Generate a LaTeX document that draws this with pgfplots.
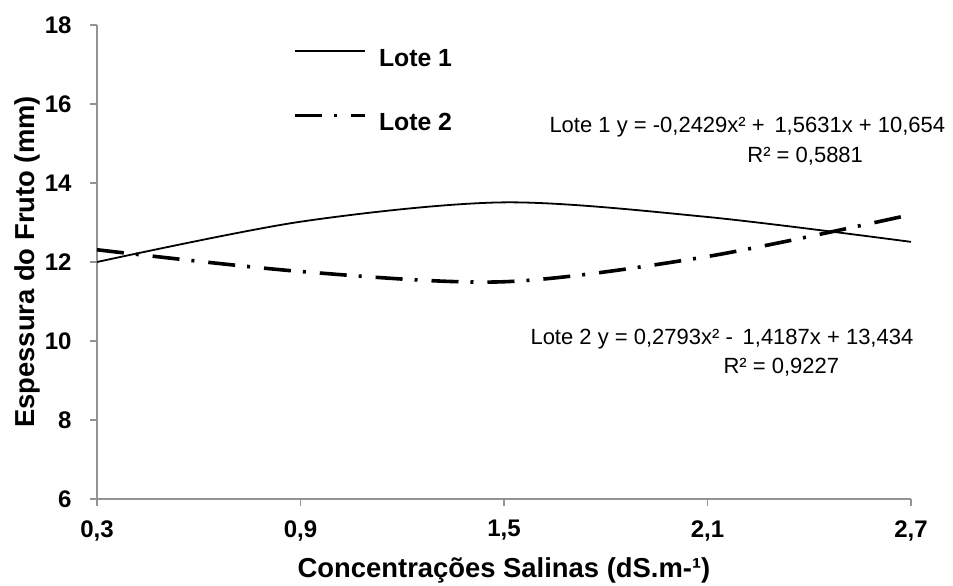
\documentclass[border=0pt]{standalone}
\usepackage{fontspec}
\setmainfont{Liberation Sans}
\usepackage{pgfplots}
\pgfplotsset{compat=1.18}

\begin{document}
\begin{tikzpicture}
\useasboundingbox (-48.5pt,-43pt) rectangle (428pt,249.5pt);
\begin{axis}[
  at={(0pt,0pt)},anchor=south west,
  scale only axis,width=407pt,height=237pt,
  xmin=0.3,xmax=2.7,ymin=6,ymax=18,
  clip=false,
  axis x line*=bottom,axis y line*=left,
  axis line style={-,draw=gray!85,line width=0.75pt},
  tick style={draw=gray!85,line width=0.75pt},
  tick align=outside,major tick length=3.5pt,
  xtick={0.3,0.9,1.5,2.1,2.7},
  xticklabels={{0,3},{0,9},{1,5},{2,1},{2,7}},
  ytick={6,8,...,18},
  ticklabel style={font=\bfseries\fontsize{12}{14}\selectfont},
  xticklabel style={anchor=north,inner sep=0pt,yshift=-7pt},
  yticklabel style={anchor=east,inner sep=0pt,xshift=-9pt},
  /pgf/number format/assume math mode=true,
  xlabel={Concentrações Salinas (dS.m-¹)},
  ylabel={Espessura do Fruto (mm)},
  label style={font=\bfseries\fontsize{13.7}{16}\selectfont},
  xlabel style={at={(axis description cs:0.5,-0.15)},anchor=center},
  ylabel style={at={(axis description cs:-0.086,0.5)},anchor=center},
  legend style={at={(axis description cs:0.2408,0.95)},anchor=north west,
    draw=none,fill=none,inner sep=0pt,row sep=22pt,
    font=\bfseries\fontsize{12.4}{14}\selectfont,
    nodes={inner sep=0pt}},
  legend cell align=left,
  legend image code/.code={\draw[#1] (0pt,4pt) -- (35pt,4pt);},
  /tikz/every odd column/.append style={column sep=6pt},
]
\addplot[black,line width=0.9pt,smooth] coordinates
  {(0.3,12.00) (0.9,13.02) (1.5,13.51) (2.1,13.14) (2.7,12.51)};
\addlegendentry{Lote 1}
\addplot[black,line width=1.8pt,smooth,
  dash pattern=on 13.5pt off 6pt on 1.5pt off 7pt] coordinates
  {(0.3,12.31) (0.9,11.76) (1.5,11.50) (2.1,12.14) (2.7,13.20)};
\addlegendentry{Lote 2}

\node[anchor=base west,inner sep=0pt,font=\fontsize{11}{13}\selectfont]
  at (axis cs:1.633,15.29) {Lote 1 y = -0,2429x² + \,1,5631x + 10,654};
\node[anchor=base west,inner sep=0pt,font=\fontsize{11}{13}\selectfont]
  at (axis cs:2.2165,14.53) {R² = 0,5881};
\node[anchor=base west,inner sep=0pt,font=\fontsize{11}{13}\selectfont]
  at (axis cs:1.577,9.90) {Lote 2 y = 0,2793x² - \,1,4187x + 13,434};
\node[anchor=base west,inner sep=0pt,font=\fontsize{11}{13}\selectfont]
  at (axis cs:2.146,9.19) {R² = 0,9227};
\end{axis}
\end{tikzpicture}
\end{document}
